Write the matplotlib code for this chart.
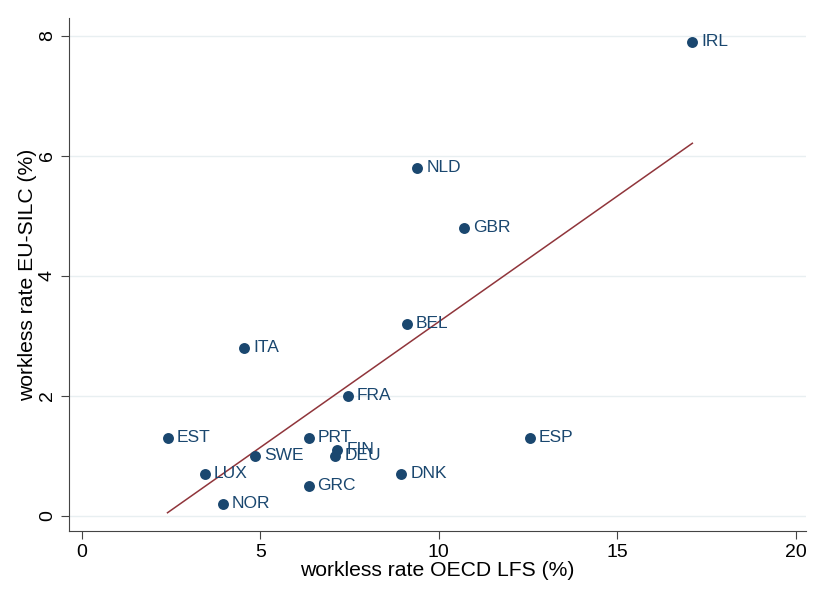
import matplotlib.pyplot as plt
import numpy as np

plt.rcParams['font.family'] = ['Liberation Sans', 'DejaVu Sans']

# workless rates by country
countries = ['IRL', 'NLD', 'GBR', 'BEL', 'ITA', 'FRA', 'EST', 'ESP',
             'PRT', 'FIN', 'DEU', 'SWE', 'LUX', 'DNK', 'GRC', 'NOR']
oecd_lfs = [17.1, 9.4, 10.7, 9.1, 4.55, 7.45, 2.4, 12.55,
            6.35, 7.15, 7.1, 4.85, 3.45, 8.95, 6.35, 3.95]
eu_silc = [7.9, 5.8, 4.8, 3.2, 2.8, 2.0, 1.3, 1.3,
           1.3, 1.1, 1.0, 1.0, 0.7, 0.7, 0.5, 0.2]

navy = '#1a476f'
maroon = '#90353b'

x = np.array(oecd_lfs)
y = np.array(eu_silc)
b, a = np.polyfit(x, y, 1)
xs = np.array([x.min(), x.max()])

fig = plt.figure(figsize=(8.19, 6.03), dpi=100)
ax = fig.add_axes([0.0842, 0.1194, 0.8998, 0.8506])

ax.set_xlim(-0.36, 20.28)
ax.set_ylim(-0.25, 8.29)

for yy in [0, 2, 4, 6, 8]:
    ax.axhline(yy, color='#e8eff1', lw=1, zorder=0)

ax.plot(xs, a + b * xs, color=maroon, lw=1.1, zorder=2)
ax.scatter(x, y, s=62, color=navy, zorder=3, linewidths=0)
for c, xi, yi in zip(countries, x, y):
    ax.annotate(c, (xi, yi), xytext=(6.5, 0), textcoords='offset points',
                va='center', ha='left', color=navy, fontsize=12.5, zorder=4)

ax.spines['top'].set_visible(False)
ax.spines['right'].set_visible(False)
ax.spines['left'].set_color('#444444')
ax.spines['bottom'].set_color('#444444')

ax.set_xticks([0, 5, 10, 15, 20])
ax.set_yticks([0, 2, 4, 6, 8])
ax.tick_params(axis='both', direction='out', length=6, width=0.8,
               labelsize=14, color='#444444')
ax.tick_params(axis='y', labelrotation=90)
for lbl in ax.get_yticklabels():
    lbl.set_va('center')

ax.set_xlabel('workless rate OECD LFS (%)', fontsize=15.2, labelpad=0)
ax.set_ylabel('workless rate EU-SILC (%)', fontsize=15.2, labelpad=1)

plt.savefig('out.png', dpi=100, facecolor='white')
